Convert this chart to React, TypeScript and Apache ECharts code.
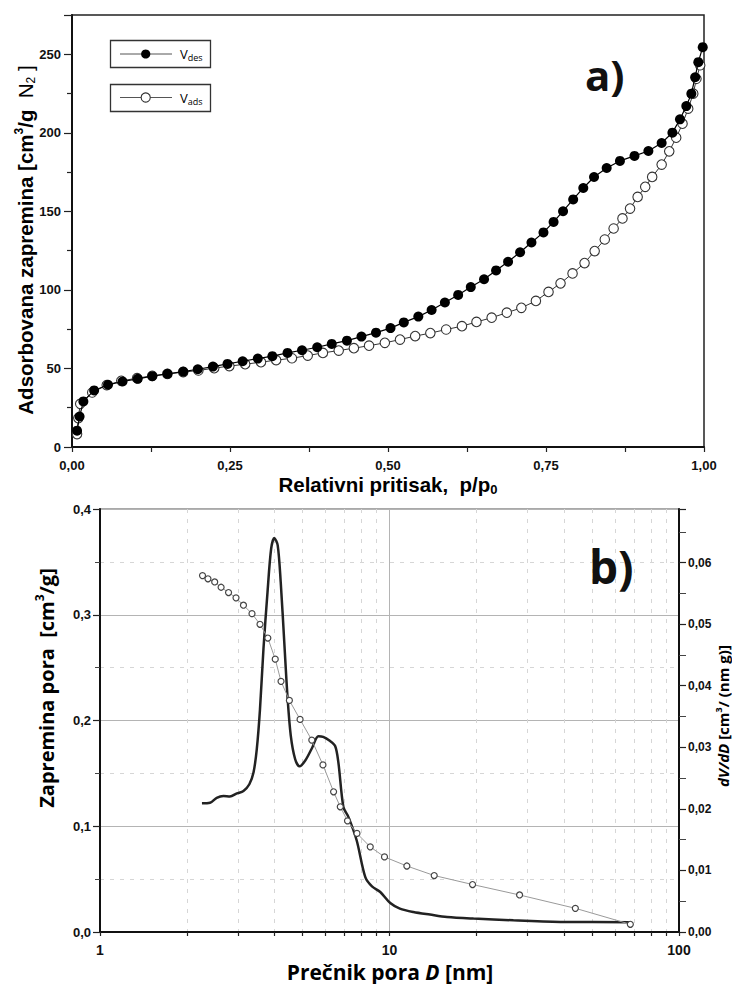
import React, { useEffect, useRef } from "react";
import * as echarts from "echarts";

// ---- Panel a) : N2 isotherm ----
const relPressureAds = [0.008, 0.010, 0.013, 0.032, 0.055, 0.078, 0.103, 0.127, 0.151, 0.176, 0.200, 0.225, 0.249, 0.274, 0.299, 0.323, 0.348, 0.373, 0.397, 0.422, 0.446, 0.470, 0.495, 0.519, 0.543, 0.567, 0.592, 0.617, 0.640, 0.664, 0.688, 0.711, 0.734, 0.754, 0.773, 0.792, 0.811, 0.827, 0.843, 0.857, 0.871, 0.883, 0.895, 0.907, 0.918, 0.933, 0.945, 0.956, 0.966, 0.975, 0.983, 0.988, 0.994];
const volumeAds = [8.2, 18.4, 27.5, 34.7, 39.4, 42.1, 43.8, 45.3, 46.5, 47.7, 48.7, 50.2, 51.5, 52.7, 54.0, 55.3, 56.5, 58.2, 59.9, 61.4, 62.9, 64.5, 66.3, 68.4, 70.6, 72.5, 74.8, 76.9, 79.6, 82.3, 85.5, 88.6, 93.0, 98.7, 104.2, 110.5, 117.1, 124.7, 132.1, 139.1, 145.5, 151.8, 159.2, 165.6, 171.9, 179.8, 188.2, 196.9, 205.8, 215.4, 224.9, 234.4, 243.0];
const relPressureDes = [0.008, 0.012, 0.018, 0.035, 0.057, 0.080, 0.104, 0.127, 0.151, 0.176, 0.199, 0.223, 0.246, 0.270, 0.294, 0.317, 0.341, 0.364, 0.388, 0.411, 0.435, 0.458, 0.481, 0.504, 0.525, 0.548, 0.569, 0.590, 0.611, 0.631, 0.652, 0.671, 0.690, 0.709, 0.727, 0.746, 0.762, 0.777, 0.793, 0.809, 0.826, 0.846, 0.867, 0.890, 0.912, 0.933, 0.950, 0.962, 0.972, 0.980, 0.986, 0.991, 0.998];
const volumeDes = [10.4, 19.4, 29.0, 36.0, 39.6, 41.7, 43.4, 45.1, 46.6, 48.0, 49.5, 51.2, 52.9, 54.6, 56.3, 57.8, 59.9, 61.6, 63.5, 65.6, 67.7, 70.3, 72.8, 75.7, 79.3, 83.0, 87.2, 92.0, 96.8, 101.8, 106.8, 112.4, 117.9, 124.0, 130.2, 136.6, 143.3, 150.1, 157.6, 164.9, 171.9, 177.6, 182.1, 185.3, 188.4, 193.5, 200.1, 208.6, 217.0, 224.9, 235.4, 245.0, 254.5];

// ---- Panel b) : pore size distribution ----
const cumDiameter = [2.26, 2.36, 2.49, 2.62, 2.78, 2.95, 3.13, 3.35, 3.57, 3.80, 4.03, 4.22, 4.51, 4.91, 5.39, 5.89, 6.41, 6.76, 7.16, 7.72, 8.58, 9.61, 11.48, 14.27, 19.36, 28.14, 43.85, 67.9];
const cumVolume = [0.337, 0.334, 0.331, 0.326, 0.321, 0.316, 0.309, 0.301, 0.291, 0.278, 0.258, 0.237, 0.219, 0.201, 0.1815, 0.158, 0.1326, 0.1184, 0.1051, 0.0932, 0.0805, 0.071, 0.0624, 0.0534, 0.0449, 0.035, 0.0224, 0.0073];
const psdDiameter = [2.25, 2.40, 2.53, 2.67, 2.81, 2.97, 3.13, 3.28, 3.39, 3.48, 3.57, 3.67, 3.79, 3.90, 4.00, 4.11, 4.21, 4.33, 4.44, 4.56, 4.72, 4.89, 5.11, 5.39, 5.68, 5.90, 6.20, 6.49, 6.66, 6.93, 7.21, 7.70, 8.25, 8.70, 9.29, 10.06, 10.86, 12.09, 13.8, 15.8, 19.5, 26.8, 39.9, 67.9];
const psdValue = [0.0209, 0.0210, 0.0218, 0.0221, 0.0220, 0.0225, 0.0229, 0.0240, 0.0259, 0.0297, 0.0362, 0.0460, 0.0552, 0.0622, 0.0640, 0.0628, 0.0568, 0.0471, 0.0384, 0.0319, 0.0281, 0.0269, 0.0278, 0.0298, 0.0318, 0.0317, 0.0311, 0.0302, 0.0275, 0.0203, 0.0187, 0.0149, 0.0089, 0.0074, 0.0065, 0.0047, 0.0038, 0.00325, 0.00283, 0.00244, 0.00218, 0.0019, 0.00163, 0.0016];

const logMinorTicks = [1, 2, 3, 4, 5, 6, 7, 8, 9, 10, 20, 30, 40, 50, 60, 70, 80, 90, 100];
const logMajorTicks = [1, 10, 100];

const zip = (a: number[], b: number[]) => a.map((v, i) => [v, b[i]]);
const comma = (v: number, d: number) => v.toFixed(d).replace(".", ",");

const ARIAL = "Liberation Sans";
const OPEN = "Open Sans";
const DASH = [4, 6];

export default function App() {
  const ref = useRef<HTMLDivElement>(null);
  useEffect(() => {
    document.body.style.margin = "0";
    const chart = echarts.init(ref.current!, undefined, { renderer: "svg" });
    const tickLabel = { fontFamily: ARIAL, fontWeight: "bold" as const, fontSize: 13, color: "#111" };
    const option: any = {
      animation: false,
      backgroundColor: "#fff",
      grid: [
        { left: 72, top: 15, width: 632, height: 432, show: true, borderColor: "#222", borderWidth: 1.5, backgroundColor: "transparent" },
        { left: 100, top: 509, width: 579, height: 423, show: true, borderColor: "#555", borderWidth: 1.2, backgroundColor: "transparent" },
      ],
      xAxis: [
        {
          gridIndex: 0, type: "value", min: 0, max: 1, interval: 0.25,
          axisLine: { lineStyle: { color: "#111", width: 2 } },
          axisTick: { length: 5, lineStyle: { color: "#222", width: 1.2 } },
          minorTick: { show: true, splitNumber: 2, length: 5, lineStyle: { color: "#222", width: 1.2 } },
          axisLabel: { ...tickLabel, margin: 12, formatter: (v: number) => comma(v, 2) },
          splitLine: { show: false },
        },
        {
          gridIndex: 1, type: "log", logBase: 10, min: 1, max: 100,
          axisLine: { lineStyle: { color: "#111", width: 2 } },
          axisTick: { customValues: logMinorTicks, length: 4, lineStyle: { color: "#222", width: 1.2 } },
          axisLabel: { ...tickLabel, fontSize: 14, margin: 11, customValues: logMajorTicks, formatter: (v: number) => String(Math.round(v)) },
          splitLine: { show: true, lineStyle: { color: "#d6d6d6", type: DASH, width: 1 } },
        },
        {
          gridIndex: 1, type: "log", logBase: 10, min: 1, max: 100, position: "top",
          axisLine: { show: false },
          axisTick: { show: false, customValues: logMajorTicks },
          axisLabel: { show: false },
          splitLine: { show: true, lineStyle: { color: "#b4b4b4", width: 1 } },
        },
      ],
      yAxis: [
        {
          gridIndex: 0, type: "value", min: 0, max: 275, interval: 50,
          axisLine: { show: true, lineStyle: { color: "#111", width: 2 } },
          axisTick: { show: true, length: 8, lineStyle: { color: "#222", width: 1.2 } },
          minorTick: { show: true, splitNumber: 2, length: 5, lineStyle: { color: "#222", width: 1.2 } },
          axisLabel: { ...tickLabel, margin: 11, showMaxLabel: false, formatter: (v: number) => (v % 50 === 0 ? String(v) : "") },
          splitLine: { show: false },
        },
        {
          gridIndex: 1, type: "value", min: 0, max: 0.4, interval: 0.1, position: "left",
          axisLine: { show: true, lineStyle: { color: "#111", width: 2 } },
          axisTick: { show: true, length: 7, lineStyle: { color: "#222", width: 1.2 } },
          minorTick: { show: true, splitNumber: 2, length: 5, lineStyle: { color: "#444", width: 1 } },
          axisLabel: { ...tickLabel, margin: 9, formatter: (v: number) => comma(v, 1) },
          splitLine: { show: true, lineStyle: { color: "#b4b4b4", width: 1 } },
          minorSplitLine: { show: true, lineStyle: { color: "#d6d6d6", type: DASH, width: 1 } },
        },
        {
          gridIndex: 1, type: "value", min: 0, max: 0.0687, interval: 0.01, position: "right",
          axisLine: { show: true, lineStyle: { color: "#111", width: 2 } },
          axisTick: { show: true, length: 7, lineStyle: { color: "#222", width: 1.2 } },
          minorTick: { show: true, splitNumber: 2, length: 7, lineStyle: { color: "#444", width: 1 } },
          axisLabel: { ...tickLabel, fontSize: 12, margin: 9, showMaxLabel: false, formatter: (v: number) => (v < 0.065 ? comma(v, 2) : "") },
          splitLine: { show: false },
        },
      ],
      series: [
        {
          name: "Vads", type: "line", xAxisIndex: 0, yAxisIndex: 0, data: zip(relPressureAds, volumeAds),
          symbol: "circle", symbolSize: 9.5, z: 2,
          itemStyle: { color: "#fff", borderColor: "#333", borderWidth: 1.1 },
          lineStyle: { color: "#333", width: 1 },
        },
        {
          name: "Vdes", type: "line", xAxisIndex: 0, yAxisIndex: 0, data: zip(relPressureDes, volumeDes),
          symbol: "circle", symbolSize: 10, z: 3,
          itemStyle: { color: "#000", borderColor: "#000", borderWidth: 0 },
          lineStyle: { color: "#000", width: 1.2 },
        },
        {
          name: "Zapremina pora", type: "line", xAxisIndex: 1, yAxisIndex: 1, data: zip(cumDiameter, cumVolume),
          symbol: "circle", symbolSize: 6, z: 3,
          itemStyle: { color: "#fff", borderColor: "#444", borderWidth: 1.2 },
          lineStyle: { color: "#9a9a9a", width: 1 },
        },
        {
          name: "dV/dD", type: "line", xAxisIndex: 1, yAxisIndex: 2, data: zip(psdDiameter, psdValue),
          symbol: "none", showSymbol: false, smooth: 0.3, z: 2,
          lineStyle: { color: "#222", width: 2.5 },
        },
      ],
      graphic: [
        // legend boxes
        { type: "rect", shape: { x: 110.5, y: 40.5, width: 100, height: 27 }, style: { fill: "#fff", stroke: "#333", lineWidth: 1.3 }, z: 10 },
        { type: "line", shape: { x1: 120, y1: 54, x2: 172, y2: 54 }, style: { stroke: "#555", lineWidth: 1 }, z: 11 },
        { type: "circle", shape: { cx: 145.7, cy: 54, r: 4.6 }, style: { fill: "#000" }, z: 12 },
        {
          type: "text", x: 180, y: 54, z: 12,
          style: {
            text: "{v|V}{s|des}", verticalAlign: "middle", align: "left",
            rich: { v: { fontFamily: OPEN, fontSize: 13, color: "#222", lineHeight: 16 }, s: { fontFamily: OPEN, fontSize: 9, color: "#222", lineHeight: 9, verticalAlign: "bottom" } },
          },
        },
        { type: "rect", shape: { x: 110.5, y: 84.5, width: 100, height: 27 }, style: { fill: "#fff", stroke: "#333", lineWidth: 1.3 }, z: 10 },
        { type: "line", shape: { x1: 120, y1: 97.5, x2: 172, y2: 97.5 }, style: { stroke: "#555", lineWidth: 1 }, z: 11 },
        { type: "circle", shape: { cx: 145.7, cy: 97.5, r: 4.6 }, style: { fill: "#fff", stroke: "#333", lineWidth: 1.1 }, z: 12 },
        {
          type: "text", x: 180, y: 97.5, z: 12,
          style: {
            text: "{v|V}{s|ads}", verticalAlign: "middle", align: "left",
            rich: { v: { fontFamily: OPEN, fontSize: 13, color: "#222", lineHeight: 16 }, s: { fontFamily: OPEN, fontSize: 9, color: "#222", lineHeight: 9, verticalAlign: "bottom" } },
          },
        },
        // panel labels
        { type: "text", x: 585, y: 74, z: 12, style: { text: "a)", fontFamily: OPEN, fontWeight: "bold", fontSize: 42, fill: "#111", verticalAlign: "middle" } },
        { type: "text", x: 589, y: 566, z: 12, style: { text: "b)", fontFamily: OPEN, fontWeight: "bold", fontSize: 46, fill: "#111", verticalAlign: "middle" } },
        // axis titles
        {
          type: "text", x: 25, y: 240, rotation: Math.PI / 2, z: 12,
          style: {
            text: "{b|Adsorbovana zapremina [cm}{sup|3}{b|/g  }{n|N}{sub|2}{n| ]}", align: "center", verticalAlign: "middle",
            rich: {
              b: { fontFamily: ARIAL, fontWeight: "bold", fontSize: 20.5, color: "#111", lineHeight: 24 },
              sup: { fontFamily: ARIAL, fontWeight: "bold", fontSize: 12, color: "#111", lineHeight: 12, verticalAlign: "top" },
              n: { fontFamily: ARIAL, fontSize: 20.5, color: "#111", lineHeight: 24 },
              sub: { fontFamily: ARIAL, fontSize: 12, color: "#111", lineHeight: 12, verticalAlign: "bottom" },
            },
          },
        },
        {
          type: "text", x: 388, y: 484, z: 12,
          style: {
            text: "{b|Relativni pritisak,  p/p}{sub|0}", align: "center", verticalAlign: "middle",
            rich: {
              b: { fontFamily: ARIAL, fontWeight: "bold", fontSize: 20.5, color: "#111", lineHeight: 24 },
              sub: { fontFamily: ARIAL, fontWeight: "bold", fontSize: 13, color: "#111", lineHeight: 13, verticalAlign: "bottom" },
            },
          },
        },
        {
          type: "text", x: 46, y: 688, rotation: Math.PI / 2, z: 12,
          style: {
            text: "{b|Zapremina pora  [cm}{sup|3}{b|/g]}", align: "center", verticalAlign: "middle",
            rich: {
              b: { fontFamily: OPEN, fontWeight: "bold", fontSize: 20, color: "#111", lineHeight: 26 },
              sup: { fontFamily: OPEN, fontWeight: "bold", fontSize: 12, color: "#111", lineHeight: 12, verticalAlign: "top" },
            },
          },
        },
        {
          type: "text", x: 390, y: 971.5, z: 12,
          style: {
            text: "{b|Prečnik pora }{i|D}{b| [nm]}", align: "center", verticalAlign: "middle",
            rich: {
              b: { fontFamily: OPEN, fontWeight: "bold", fontSize: 21, color: "#111", lineHeight: 24 },
              i: { fontFamily: OPEN, fontWeight: "bold", fontStyle: "italic", fontSize: 21, color: "#111", lineHeight: 24 },
            },
          },
        },
        {
          type: "text", x: 723, y: 716, rotation: Math.PI / 2, z: 12,
          style: {
            text: "{i|dV/dD}{b| [cm}{sup|3}{b|/ (nm g)]}", align: "center", verticalAlign: "middle",
            rich: {
              i: { fontFamily: OPEN, fontWeight: "bold", fontStyle: "italic", fontSize: 15, color: "#111", lineHeight: 18 },
              b: { fontFamily: OPEN, fontWeight: "bold", fontSize: 15, color: "#111", lineHeight: 18 },
              sup: { fontFamily: OPEN, fontWeight: "bold", fontSize: 9, color: "#111", lineHeight: 9, verticalAlign: "top" },
            },
          },
        },
      ],
    };
    chart.setOption(option);
    return () => chart.dispose();
  }, []);
  return <div ref={ref} style={{ width: 732, height: 984 }} />;
}
